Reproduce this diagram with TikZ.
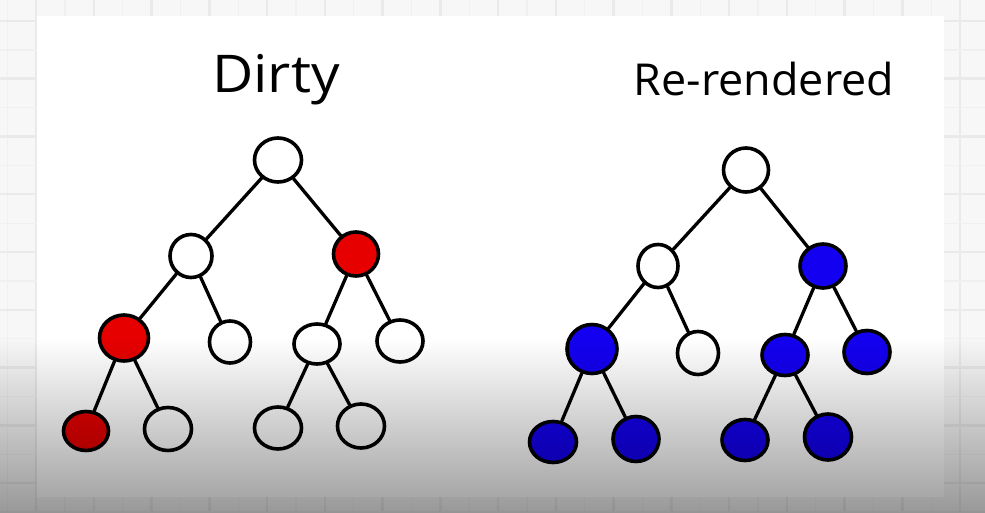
\documentclass[tikz,border=0pt]{standalone}
\usepackage{fontspec}
\setmainfont{Open Sans}
\usetikzlibrary{shapes.geometric,fadings}
\tikzfading[name=fadebottom, top color=transparent!100, bottom color=transparent!0]
\definecolor{bgpage}{HTML}{F7F7F7}
\definecolor{gridthick}{HTML}{EAEAEA}
\definecolor{gridthin}{HTML}{F0F0F0}
\definecolor{dirtyred}{HTML}{E60000}
\definecolor{renderblue}{HTML}{1400F0}
\begin{document}
\begin{tikzpicture}[x=1pt,y=-1pt,
  treenode/.style={ellipse, draw=black, line width=3.6pt, fill=white, inner sep=0pt},
  sz/.style 2 args={minimum width=#1pt, minimum height=#2pt},
  dirty/.style={treenode, fill=dirtyred},
  rendered/.style={treenode, fill=renderblue},
  edge/.style={draw=black, line width=3.3pt, line cap=round},
  title/.style={anchor=base, inner sep=0pt}]
\useasboundingbox (0,0) rectangle (985,513);
% page background with grid
\fill[bgpage] (0,0) rectangle (985,513);
\foreach \i in {-1,...,16} {
  \draw[gridthick, line width=2.5pt] ({36+57.75*\i},0) -- ({36+57.75*\i},513);
  \draw[gridthin, line width=1.2pt] ({36+57.75*\i+28.9},0) -- ({36+57.75*\i+28.9},513);
}
\foreach \i in {0,...,8} {
  \draw[gridthick, line width=2.5pt] (0,{21+57.75*\i}) -- (985,{21+57.75*\i});
  \draw[gridthin, line width=1.2pt] (0,{50+57.75*\i}) -- (985,{50+57.75*\i});
}
% white panel
\fill[white] (37,16) rectangle (944,497);

% titles
\node[title, xscale=1.09, font=\fontsize{52}{52}\selectfont] (tdirty) at (276,93) {Dirty};
\node[title, xscale=1.02, font=\fontsize{44}{44}\selectfont] (trend) at (764,96) {Re-rendered};

% left tree (Dirty)
\node[treenode, sz={47}{44}] (a0) at (278,160) {};
\node[treenode, sz={42}{43}] (a1) at (191,256) {};
\node[dirty,    sz={45}{44}] (a2) at (356,254) {};
\node[dirty,    sz={49}{46}] (a3) at (124,338) {};
\node[treenode, sz={41}{42}] (a4) at (230,342) {};
\node[treenode, sz={46}{40}] (a5) at (317,344) {};
\node[treenode, sz={46}{42}] (a6) at (400,341) {};
\node[dirty,    sz={45}{39}] (a7) at (86,431) {};
\node[treenode, sz={47}{43}] (a8) at (168,429) {};
\node[treenode, sz={47}{42}] (a9) at (278,428) {};
\node[treenode, sz={47}{44}] (a10) at (361,426) {};
\draw[edge] (a0) -- (a1);
\draw[edge] (a0) -- (a2);
\draw[edge] (a1) -- (a3);
\draw[edge] (a1) -- (a4);
\draw[edge] (a2) -- (a5);
\draw[edge] (a2) -- (a6);
\draw[edge] (a3) -- (a7);
\draw[edge] (a3) -- (a8);
\draw[edge] (a5) -- (a9);
\draw[edge] (a5) -- (a10);

% right tree (Re-rendered)
\node[treenode, sz={45}{44}] (b0) at (746,170) {};
\node[treenode, sz={40}{43}] (b1) at (658,266) {};
\node[rendered, sz={46}{44}] (b2) at (823,266) {};
\node[rendered, sz={50}{49}] (b3) at (592,349) {};
\node[treenode, sz={41}{43}] (b4) at (698,353) {};
\node[rendered, sz={46}{41}] (b5) at (785,355) {};
\node[rendered, sz={46}{43}] (b6) at (867,352) {};
\node[rendered, sz={47}{41}] (b7) at (553,442) {};
\node[rendered, sz={46}{45}] (b8) at (636,439) {};
\node[rendered, sz={46}{41}] (b9) at (745,440) {};
\node[rendered, sz={47}{46}] (b10) at (828,437) {};
\draw[edge] (b0) -- (b1);
\draw[edge] (b0) -- (b2);
\draw[edge] (b1) -- (b3);
\draw[edge] (b1) -- (b4);
\draw[edge] (b2) -- (b5);
\draw[edge] (b2) -- (b6);
\draw[edge] (b3) -- (b7);
\draw[edge] (b3) -- (b8);
\draw[edge] (b5) -- (b9);
\draw[edge] (b5) -- (b10);

% bottom shadow overlay
\fill[black, opacity=0.38, path fading=fadebottom] (-10,338) rectangle (995,513);
\end{tikzpicture}
\end{document}
